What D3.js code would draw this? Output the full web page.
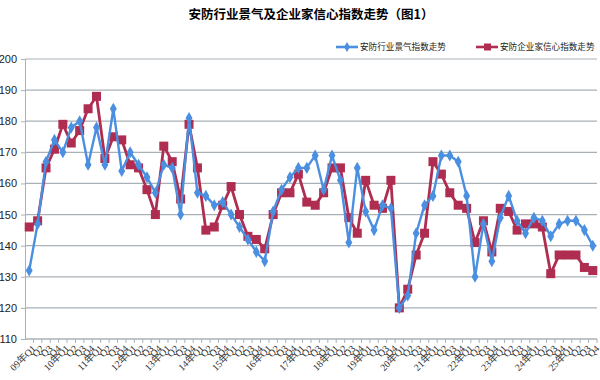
<!DOCTYPE html>
<html>
<head>
<meta charset="utf-8">
<script src="https://cdn.jsdelivr.net/npm/d3@7"></script>
<style>
  body { margin: 0; background: #fff; }
  text { font-family: "Liberation Sans", "Noto Sans CJK SC", sans-serif; }
</style>
</head>
<body>
<script>
const title = '安防行业景气及企业家信心指数走势（图1）';
const seriesNames = ['安防行业景气指数走势', '安防企业家信心指数走势'];
const years = ['09','10','11','12','13','14','15','16','17','18','19','20','21','22','23','24','25'];
const quarters = ['Q1','Q2','Q3','Q4'];
const categories = years.flatMap(y => quarters.map(q => y + '年' + q));

const industryIndex = [132,147,167,174,170,178,180,166,178,166,184,164,170,166,162,157,166,165,150,181,
  157,156,153,154,150,146,142,138,135,151,158,162,165,165,169,158,169,161,141,165,
  151,145,153,152,120,124,144,153,156,169,169,167,156,130,147,135,149,156,148,144,
  149,148,143,147,148,148,145,140];
const confidenceIndex = [146,148,165,171,179,173,177,184,188,168,175,174,166,165,158,150,172,167,155,179,
  165,145,146,153,159,150,143,142,139,150,157,157,163,154,153,157,165,165,149,144,
  161,153,152,161,120,126,137,144,167,163,157,153,152,141,148,138,152,151,145,147,
  147,146,131,137,137,137,133,132];
const yTicks = [110,120,130,140,150,160,170,180,190,200];

const width = 600, height = 380;
const margin = {top: 59, right: 3, bottom: 40, left: 25};
const blue = '#4a8fe0', red = '#ae2d50';

const svg = d3.select('body').append('svg')
  .attr('width', width)
  .attr('height', height);

svg.append('text')
  .attr('x', 311).attr('y', 19)
  .attr('text-anchor', 'middle')
  .style('font-size', '12.5px')
  .style('font-weight', 'bold')
  .style('font-family', '"Noto Sans CJK SC", sans-serif')
  .text(title);

const x = d3.scaleBand()
  .domain(categories)
  .range([margin.left, width - margin.right]);

const y = d3.scaleLinear()
  .domain([110, 200])
  .range([height - margin.bottom - 1, margin.top]);

// grid
svg.append('g')
  .selectAll('line')
  .data(yTicks)
  .enter()
  .append('line')
  .attr('x1', margin.left).attr('x2', width - margin.right)
  .attr('y1', d => y(d)).attr('y2', d => y(d))
  .attr('stroke', '#a9b1b6')
  .attr('stroke-width', 1.2);

// y axis
const yAxis = svg.append('g')
  .attr('transform', `translate(${margin.left},0)`)
  .call(d3.axisLeft(y).tickValues(yTicks).tickSize(4).tickPadding(4));
yAxis.select('.domain').attr('stroke', '#a9b1b6');
yAxis.selectAll('line').attr('stroke', '#a9b1b6');
yAxis.selectAll('text').style('font-size', '11px').style('fill', '#222');

// x axis with ticks between categories
const xg = svg.append('g').attr('transform', `translate(0,${y(110)})`);
xg.append('line')
  .attr('x1', margin.left).attr('x2', width - margin.right)
  .attr('stroke', '#a9b1b6').attr('stroke-width', 1.2);
xg.selectAll('line.tk')
  .data(categories)
  .enter()
  .append('line')
  .attr('class', 'tk')
  .attr('x1', d => x(d) + x.bandwidth()).attr('x2', d => x(d) + x.bandwidth())
  .attr('y1', 0).attr('y2', 4)
  .attr('stroke', '#a9b1b6');
xg.selectAll('text')
  .data(categories)
  .enter()
  .append('text')
  .attr('transform', d => `translate(${x(d) + x.bandwidth() / 2 + 3},${6}) rotate(-45)`)
  .attr('text-anchor', 'end')
  .attr('dy', '0.6em')
  .style('font-size', '9.8px')
  .style('font-family', '"Liberation Serif", "Noto Sans CJK SC", serif')
  .style('fill', '#333')
  .text((d, i) => i % 4 === 0 ? d : d.slice(-2));

const cx = (d, i) => x(categories[i]) + x.bandwidth() / 2;
const line = d3.line().x(cx).y(d => y(d));

// red series
svg.append('path')
  .datum(confidenceIndex)
  .attr('d', line)
  .attr('fill', 'none')
  .attr('stroke', red)
  .attr('stroke-width', 2.8);
svg.selectAll('rect.red')
  .data(confidenceIndex)
  .enter()
  .append('rect')
  .attr('class', 'red')
  .attr('x', (d, i) => cx(d, i) - 4.5)
  .attr('y', d => y(d) - 4.5)
  .attr('width', 9).attr('height', 9)
  .attr('fill', red);

// blue series (drawn over red)
svg.append('path')
  .datum(industryIndex)
  .attr('d', line)
  .attr('fill', 'none')
  .attr('stroke', blue)
  .attr('stroke-width', 2.4);
const diamond = d3.symbol().type(d3.symbolDiamond).size(42);
svg.selectAll('path.blue')
  .data(industryIndex)
  .enter()
  .append('path')
  .attr('class', 'blue')
  .attr('d', diamond)
  .attr('transform', (d, i) => `translate(${cx(d, i)},${y(d)})`)
  .attr('fill', blue);

// legend
const legend = svg.append('g').attr('transform', 'translate(0,47)');
const items = [
  {name: seriesNames[0], color: blue, x: 336, shape: 'diamond'},
  {name: seriesNames[1], color: red, x: 476, shape: 'square'}
];
items.forEach(it => {
  legend.append('line')
    .attr('x1', it.x).attr('x2', it.x + 22)
    .attr('stroke', it.color).attr('stroke-width', 2.6);
  if (it.shape === 'diamond') {
    legend.append('path')
      .attr('d', d3.symbol().type(d3.symbolDiamond).size(30))
      .attr('transform', `translate(${it.x + 11},0)`)
      .attr('fill', it.color);
  } else {
    legend.append('rect')
      .attr('x', it.x + 8).attr('y', -3.5)
      .attr('width', 7).attr('height', 7)
      .attr('fill', it.color);
  }
  legend.append('text')
    .attr('x', it.x + 24).attr('y', 0)
    .attr('dy', '0.35em')
    .style('font-size', '8.6px')
    .style('font-family', '"Noto Sans CJK SC", sans-serif')
    .style('fill', '#222')
    .text(it.name);
});
</script>
</body>
</html>
